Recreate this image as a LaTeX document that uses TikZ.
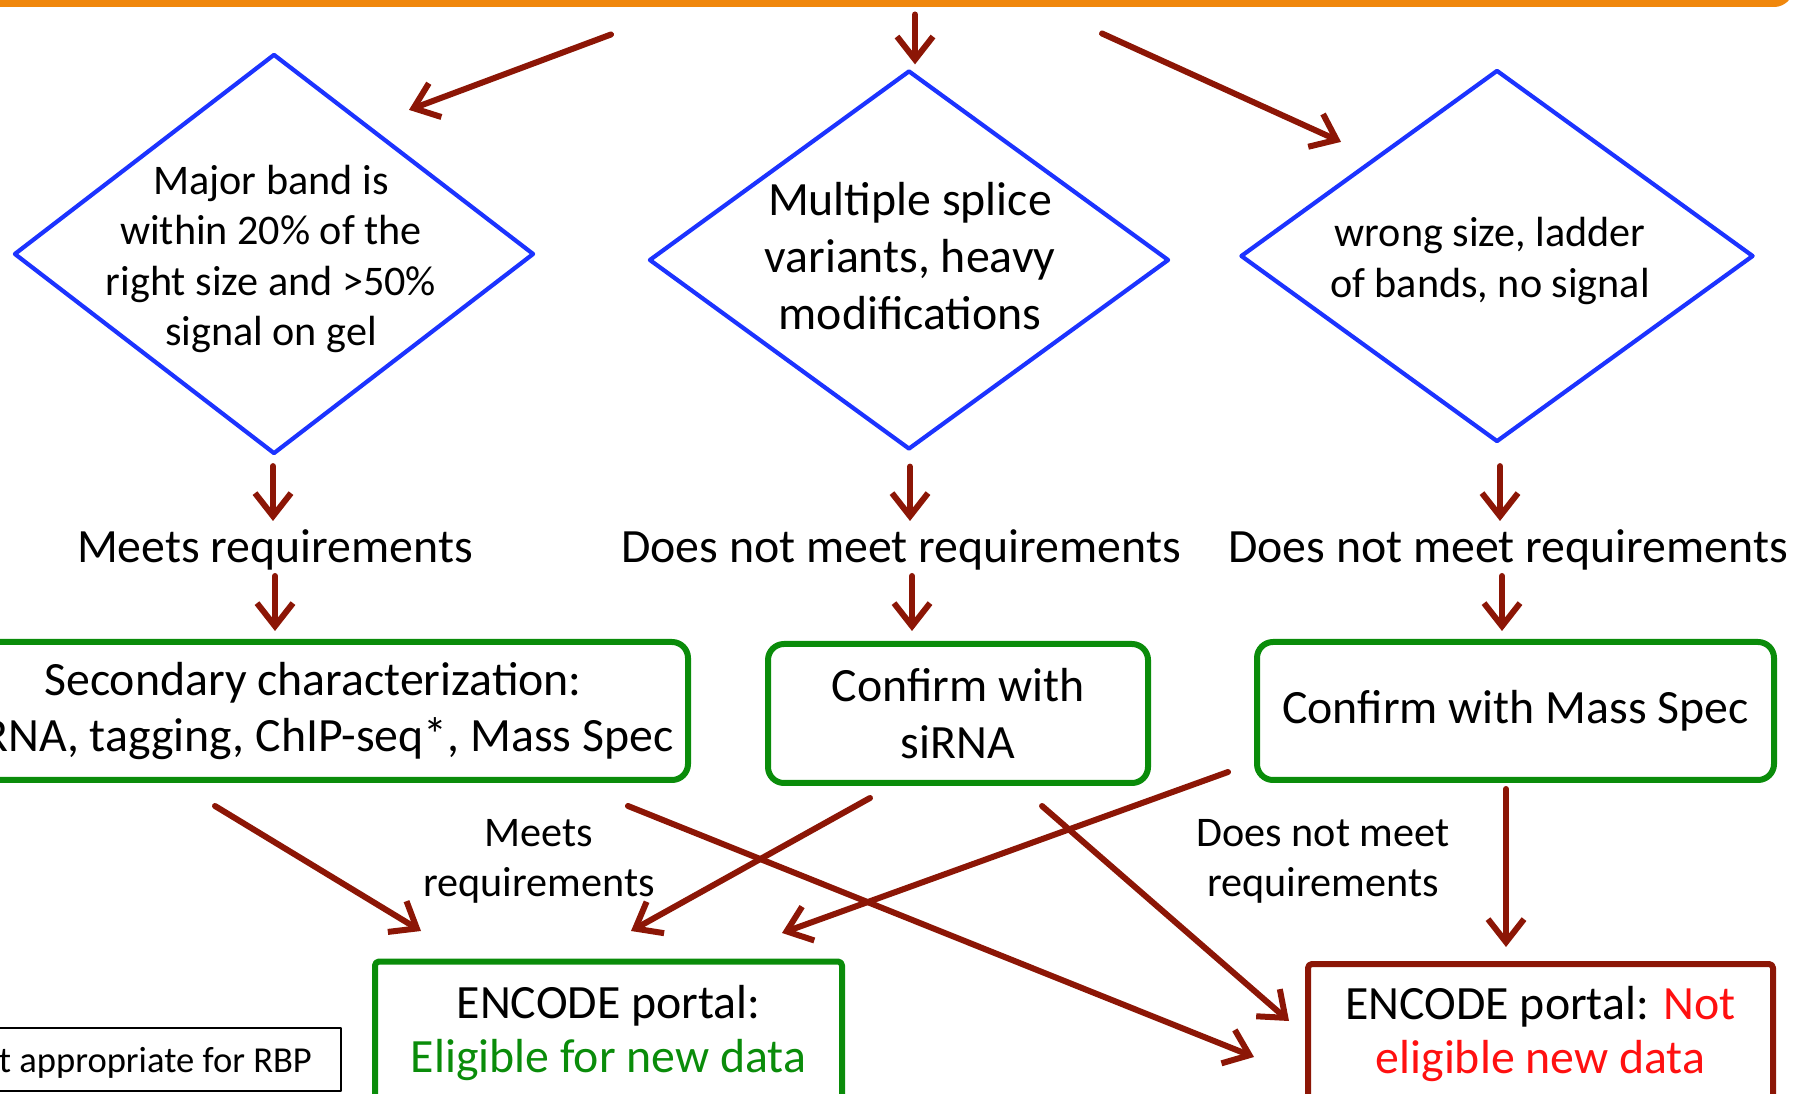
\documentclass[tikz,border=0pt]{standalone}
\usepackage{fontspec}
\setmainfont{Carlito}
\usepackage{xcolor}
\usepackage{tikz}
\usetikzlibrary{arrows.meta,positioning,shapes.geometric}
\definecolor{srcorange}{HTML}{F0870C}
\definecolor{askblue}{HTML}{1C33FF}
\definecolor{flowred}{HTML}{8C1606}
\definecolor{passgreen}{HTML}{0A8C0A}
\definecolor{failred}{HTML}{FF1010}
\tikzset{
    every picture/.style={line cap=round,line join=round},
    srcbox/.style={draw=srcorange,line width=0.7mm,rounded corners=1.6mm,
      minimum width=199mm,minimum height=30.3mm},
    decision/.style={draw=askblue,shape=diamond,line width=0.42mm,inner sep=0pt},
    asktext/.style={font=\fontsize{12}{14.3}\selectfont,align=center},
    bigask/.style={font=\fontsize{13.6}{16.2}\selectfont,align=center},
    outcome/.style={font=\fontsize{13.6}{16}\selectfont,align=center,inner sep=0pt},
    steptext/.style={font=\fontsize{12}{14.3}\selectfont,align=center,inner sep=0pt},
    checkbox/.style={draw=passgreen,line width=0.6mm,rounded corners=1.6mm,
      font=\fontsize{13.6}{16}\selectfont,align=center,inner sep=0pt},
    portal/.style={line width=0.6mm,rounded corners=0.4mm,
      font=\fontsize{13.6}{15.6}\selectfont,align=center,inner sep=0pt},
    notebox/.style={draw=black,line width=0.15mm,inner sep=0pt,
      font=\fontsize{10.4}{12}\selectfont},
    flowarrow/.style={-{Straight Barb[length=2.3mm,width=3.6mm]},draw=flowred,
      line width=0.6mm}
}
\begin{document}
\begin{tikzpicture}[x=0.1mm,y=-0.1mm]
  \useasboundingbox (0,0) rectangle (1797,1094);
  \clip (0,0) rectangle (1797,1094);
  % source box, only its bottom edge is in view
  \node[srcbox] (src) at (795,-148) {};
  % the three questions
  \node[decision,minimum width=52mm,minimum height=40mm] (d1) at (274,254) {};
  \node[decision,minimum width=52mm,minimum height=37.9mm] (d2) at (909,260) {};
  \node[decision,minimum width=51.3mm,minimum height=37.2mm] (d3) at (1497,256) {};
  \node[asktext] (d1txt) at (271,259) {Major band is\\within 20\% of the\\right size and >50\%\\signal on gel};
  \node[bigask] (d2txt) at (910,256) {Multiple splice\\variants, heavy\\modifications};
  \node[asktext] (d3txt) at (1490,261) {wrong size, ladder\\of bands, no signal};
  \draw[flowarrow] ([shift={(-184,27.5)}]src.south) -- ([shift={(135,58)}]d1.north);
  \draw[flowarrow] ([shift={(120,7.5)}]src.south) -- ([shift={(6,-4)}]d2.north);
  \draw[flowarrow] ([shift={(307,26.5)}]src.south) -- ([shift={(-156,74)}]d3.north);
  % verdicts
  \node[outcome] (m1) at (275,550) {Meets requirements};
  \node[outcome] (m2) at (901,550) {Does not meet requirements};
  \node[outcome] (m3) at (1508,550) {Does not meet requirements};
  \draw[flowarrow] ([shift={(-1,10)}]d1.south) -- ([shift={(-2,-29)}]m1.center);
  \draw[flowarrow] ([shift={(1,15)}]d2.south) -- ([shift={(9,-29)}]m2.center);
  \draw[flowarrow] ([shift={(3,22)}]d3.south) -- ([shift={(-8,-29)}]m3.center);
  % follow-up checks
  \node[checkbox,minimum width=75mm,minimum height=13.8mm] (b1) at (313,711) {Secondary characterization:\\siRNA, tagging, ChIP-seq*, Mass Spec};
  \node[checkbox,minimum width=38mm,minimum height=13.9mm] (b2) at (958,713.5) {Confirm with\\siRNA};
  \node[checkbox,minimum width=51.7mm,minimum height=13.8mm] (b3) at (1515.5,711) {Confirm with Mass Spec};
  \draw[flowarrow] ([shift={(0,26)}]m1.center) -- ([shift={(-38,-8)}]b1.north);
  \draw[flowarrow] ([shift={(11,26)}]m2.center) -- ([shift={(-46,-10)}]b2.north);
  \draw[flowarrow] ([shift={(-6,26)}]m3.center) -- ([shift={(-13.5,-8)}]b3.north);
  \node[steptext] (okay) at (539,861) {Meets\\requirements};
  \node[steptext] (notokay) at (1323,861) {Does not meet\\requirements};
  % portal outcome
  \node[portal,draw=passgreen,minimum width=46.7mm,minimum height=14.3mm] (b4) at (608.5,1033) {ENCODE portal:\\\textcolor{passgreen}{Eligible for new data}};
  \node[portal,draw=flowred,minimum width=46.5mm,minimum height=14mm] (b5) at (1540.5,1034) {ENCODE portal: \textcolor{failred}{Not}\\\textcolor{failred}{eligible new data}};
  \node[notebox,minimum width=41.4mm,minimum height=6.3mm,text height=9.4pt,text depth=2.2pt] (nb) at (134,1059.5) {Not appropriate for RBP};
  \draw[flowarrow] ([shift={(-98,23)}]b1.south) -- ([shift={(-187.5,-27.5)}]b4.north);
  \draw[flowarrow] ([shift={(315,23)}]b1.south) -- ([shift={(-51,23)}]b5.west);
  \draw[flowarrow] ([shift={(-88,12)}]b2.south) -- ([shift={(22.5,-27.5)}]b4.north);
  \draw[flowarrow] ([shift={(84,20)}]b2.south) -- ([shift={(-16,60)}]b5.north west);
  \draw[flowarrow] ([shift={(-26,-11)}]b3.south west) -- ([shift={(173.5,-25.5)}]b4.north);
  \draw[flowarrow] ([shift={(-9.5,6)}]b3.south) -- ([shift={(-34.5,-14)}]b5.north);
\end{tikzpicture}
\end{document}
